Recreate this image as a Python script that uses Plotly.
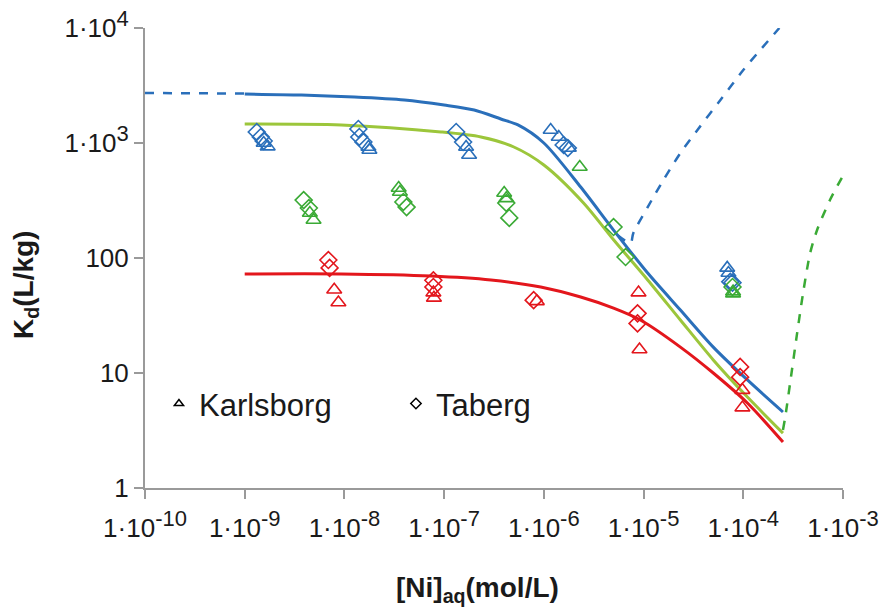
import plotly.graph_objects as go

# ---------------- data ----------------
# model curves
blue_x = [1.0e-9, 3.7e-9, 1.26e-8, 4.0e-8, 1.0e-7, 2.0e-7, 3.7e-7, 5.5e-7, 1.0e-6, 2.34e-6,
          5.0e-6, 1.1e-5, 2.34e-5, 5.0e-5, 1.1e-4, 2.5e-4]
blue_y = [2667, 2612, 2512, 2366, 2138, 1936, 1618, 1435, 1000, 414, 175, 74, 35.3, 16.8, 8.7, 4.58]

blue_dash_left_x = [1.0e-10, 1.0e-9]
blue_dash_left_y = [2720, 2690]

blue_dash_right_x = [5.5e-6, 7.4e-6, 7.9e-6, 1.1e-5, 1.58e-5, 2.34e-5, 3.47e-5, 5.9e-5, 1.0e-4,
                     1.48e-4, 2.3e-4]
blue_dash_right_y = [158, 135, 165, 277, 476, 818, 1297, 2366, 4315, 6442, 10000]

lime_x = [1e-9, 9.3e-9, 9.3e-8, 2.34e-7, 5.0e-7, 1.0e-6, 2.5e-6, 5.0e-6, 1.1e-5, 2.34e-5,
          5.0e-5, 1.1e-4, 2.5e-4]
lime_y = [1462, 1435, 1247, 1127, 923, 644, 301, 144, 64.4, 28.9, 13.0, 6.18, 3.0]

green_dash_x = [2.5e-4, 2.63e-4, 2.95e-4, 3.47e-4, 3.98e-4, 4.68e-4, 5.5e-4, 7.4e-4, 1.0e-3]
green_dash_y = [3.2, 4.1, 8.2, 22.3, 49.7, 110, 175, 319, 520]

red_x = [1e-9, 9.3e-9, 7.4e-8, 2.95e-7, 9.3e-7, 2.34e-6, 5.0e-6, 9.3e-6, 2.34e-5, 5.0e-5,
         1.1e-4, 2.5e-4]
red_y = [72.6, 72.6, 69.7, 64.4, 56.0, 45.8, 36.7, 28.9, 16.8, 10.0, 5.48, 2.51]

# measured data: Karlsborg (triangles), Taberg (diamonds)
blue_k_x = [1.55e-9, 1.70e-9, 1.74e-8, 1.78e-8, 1.66e-7, 1.78e-7, 1.17e-6, 1.41e-6, 1.78e-6, 6.9e-5, 7.1e-5]
blue_k_y = [1000, 930, 923, 869, 923, 787, 1297, 1128, 905, 82, 74]
blue_t_x = [1.32e-9, 1.45e-9, 1.55e-9, 1.38e-8, 1.41e-8, 1.55e-8, 1.32e-7, 1.55e-7, 1.58e-6, 1.74e-6, 7.4e-5, 7.8e-5]
blue_t_y = [1247, 1128, 1041, 1324, 1128, 1020, 1247, 1020, 961, 905, 62, 61]

green_k_x = [4.5e-9, 4.9e-9, 3.5e-8, 3.6e-8, 4.0e-7, 4.2e-7, 2.29e-6, 7.9e-5, 7.9e-5]
green_k_y = [246, 214, 406, 375, 367, 330, 618, 51, 49]
green_t_x = [3.9e-9, 4.4e-9, 3.9e-8, 4.2e-8, 4.2e-7, 4.5e-7, 5.0e-6, 6.6e-6, 7.8e-5]
green_t_y = [319, 272, 307, 277, 301, 223, 186, 102, 56]

red_k_x = [7.9e-9, 8.7e-9, 7.8e-8, 7.9e-8, 8.5e-7, 8.9e-6, 9.1e-6, 9.8e-5, 9.8e-5]
red_k_y = [53, 41, 50, 45, 42, 50, 16, 7.1, 5.0]
red_t_x = [6.9e-9, 7.1e-9, 7.8e-8, 7.8e-8, 7.9e-7, 8.7e-6, 8.7e-6, 9.3e-5, 9.3e-5]
red_t_y = [96, 82, 64, 56, 43, 33, 27, 11.3, 9.2]

SUP = '<span style="font-size:22px">'
x_tickvals = [1e-10, 1e-9, 1e-8, 1e-7, 1e-6, 1e-5, 1e-4, 1e-3]
x_exps = ["-10", "-9", "-8", "-7", "-6", "-5", "-4", "-3"]
x_ticktext = ["1·10<sup>" + SUP + e + "</span></sup>" for e in x_exps]
y_tickvals = [1, 10, 100, 1000, 10000]
y_ticktext = ["1", "10", "100", "1·10<sup>" + SUP + "3</span></sup>", "1·10<sup>" + SUP + "4</span></sup>"]

# ---------------- styling ----------------
BLUE = "#2a6fba"
LIME = "#9cc63b"
GREEN = "#3aaa35"
RED = "#e3161c"
FONT = "Liberation Sans, Arial, sans-serif"

fig = go.Figure()

def line(x, y, color, dash="solid", width=3):
    fig.add_trace(go.Scatter(x=x, y=y, mode="lines", line=dict(color=color, width=width, dash=dash,
                             shape="spline", smoothing=0.8), showlegend=False, hoverinfo="skip"))

def pts(x, y, color, symbol):
    fig.add_trace(go.Scatter(x=x, y=y, mode="markers",
                             marker=dict(symbol=symbol, size=13, color=color,
                                         line=dict(color=color, width=1.6)),
                             showlegend=False))

line(blue_dash_left_x, blue_dash_left_y, BLUE, dash="dash", width=2.5)
line(blue_dash_right_x, blue_dash_right_y, BLUE, dash="dash", width=2.5)
line(green_dash_x, green_dash_y, GREEN, dash="dash", width=2.5)
line(red_x, red_y, RED, width=3)
line(lime_x, lime_y, LIME, width=3)
line(blue_x, blue_y, BLUE, width=3)

pts(blue_k_x, blue_k_y, BLUE, "triangle-up-open")
pts(blue_t_x, blue_t_y, BLUE, "diamond-open")
pts(green_k_x, green_k_y, GREEN, "triangle-up-open")
pts(green_t_x, green_t_y, GREEN, "diamond-open")
pts(red_k_x, red_k_y, RED, "triangle-up-open")
pts(red_t_x, red_t_y, RED, "diamond-open")

# legend entries
fig.add_trace(go.Scatter(x=[None], y=[None], mode="markers", name="Karlsborg",
                         marker=dict(symbol="triangle-up-open", size=8, color="black",
                                     line=dict(color="black", width=1.5))))
fig.add_trace(go.Scatter(x=[None], y=[None], mode="markers", name="Taberg",
                         marker=dict(symbol="diamond-open", size=8, color="black",
                                     line=dict(color="black", width=1.5))))

axis_common = dict(type="log", showgrid=False, zeroline=False, showline=True, automargin=False,
                   linecolor="#9a9a9a", linewidth=2, ticks="outside", ticklen=9,
                   tickcolor="#9a9a9a", tickwidth=2,
                   tickfont=dict(family=FONT, size=26, color="#1a1a1a"))

fig.update_layout(
    width=883, height=608,
    margin=dict(l=145, r=40, t=28, b=120),
    paper_bgcolor="white", plot_bgcolor="white",
    xaxis=dict(range=[-10, -3], tickvals=x_tickvals, ticktext=x_ticktext, ticklabelstandoff=7,
               **axis_common),
    yaxis=dict(range=[0, 4], tickvals=y_tickvals, ticktext=y_ticktext, **axis_common),
    legend=dict(orientation="h", x=0.02, y=0.183, xanchor="left", yanchor="middle",
                bgcolor="rgba(0,0,0,0)", font=dict(family=FONT, size=31, color="#1a1a1a"),
                itemwidth=30, entrywidth=192, entrywidthmode="pixels"),
    annotations=[
        dict(text="<b>K<sub>d</sub>(L/kg)</b>", xref="paper", yref="paper",
             x=(25 - 145) / 698, y=(488 - 285) / 460, textangle=-90, showarrow=False,
             xanchor="center", yanchor="middle", font=dict(family=FONT, size=28, color="#1a1a1a")),
        dict(text="<b>[Ni]<sub>aq</sub>(mol/L)</b>", xref="paper", yref="paper",
             x=(477 - 145) / 698, y=(488 - 589) / 460, showarrow=False,
             xanchor="center", yanchor="middle", font=dict(family=FONT, size=28, color="#1a1a1a")),
    ],
)

fig.write_html("out.html")
